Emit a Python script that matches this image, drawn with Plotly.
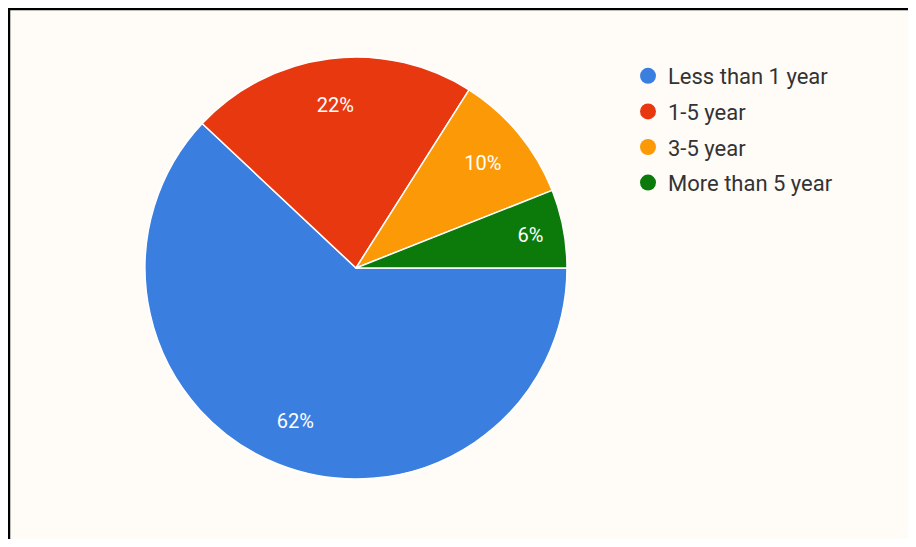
import plotly.graph_objects as go

categories = ["Less than 1 year", "1-5 year", "3-5 year", "More than 5 year"]
values = [62, 22, 10, 6]
colors = ["#3a7fdf", "#e8380f", "#fb9a06", "#0b7a0b"]

# page body has an 8px margin, so the figure is shifted by 8px
W, H = 908, 531
cx, cy, r = 348, 260, 211
dom = dict(x=[(cx - r) / W, (cx + r) / W], y=[(H - cy - r) / H, (H - cy + r) / H])

fig = go.Figure()
fig.add_trace(go.Pie(
    labels=categories, values=values, sort=False, direction="clockwise", rotation=90,
    marker=dict(colors=colors, line=dict(color="#ffffff", width=1.5)),
    textinfo="none", showlegend=False, hoverinfo="label+percent",
    domain=dom,
))
# transparent ring used only to place the percentage labels further out
fig.add_trace(go.Pie(
    labels=categories, values=values, sort=False, direction="clockwise", rotation=90,
    hole=0.56,
    marker=dict(colors=["rgba(0,0,0,0)"] * len(values), line=dict(width=0)),
    texttemplate="%{percent:.0%}", textposition="inside", insidetextorientation="horizontal",
    insidetextfont=dict(color="#ffffff", size=20, family="Roboto"),
    showlegend=False, hoverinfo="skip",
    domain=dom,
))
for name, col in zip(categories, colors):
    fig.add_trace(go.Scatter(
        x=[None], y=[None], mode="markers", name=name, legendgroup=name,
        marker=dict(symbol="circle", size=16, color=col),
    ))

fig.update_layout(
    width=W, height=H,
    margin=dict(l=0, r=0, t=0, b=0),
    paper_bgcolor="#fffcf8", plot_bgcolor="rgba(0,0,0,0)",
    xaxis=dict(visible=False, range=[0, 1]), yaxis=dict(visible=False, range=[0, 1]),
    font=dict(family="Roboto", color="#333333"),
    legend=dict(x=620 / W, y=1 - 47 / H, xanchor="left", yanchor="top",
                font=dict(size=22, color="#333333", family="Roboto"),
                bgcolor="rgba(0,0,0,0)", tracegroupgap=4, itemsizing="trace"),
    shapes=[
        dict(type="line", xref="paper", yref="paper", x0=0, x1=1, y0=1 - 1 / H, y1=1 - 1 / H,
             line=dict(color="#000000", width=2.5), layer="below"),
        dict(type="line", xref="paper", yref="paper", x0=1 / W, x1=1 / W, y0=0, y1=1,
             line=dict(color="#000000", width=2.5), layer="below"),
    ],
)
fig.write_html("out.html")
